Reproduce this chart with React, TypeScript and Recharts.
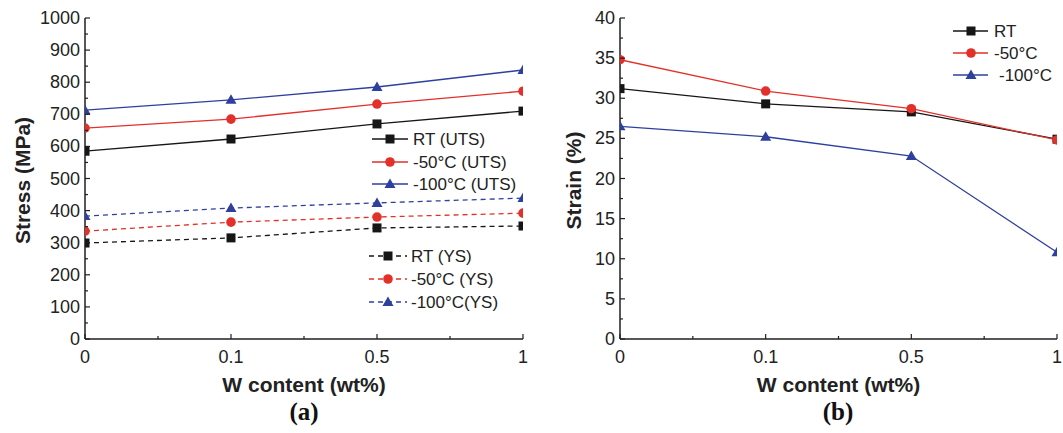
import React from 'react';
import { LineChart, Line, XAxis, YAxis, Legend } from 'recharts';

const categories = ['0', '0.1', '0.5', '1'];

const rtUts = [585, 623, 670, 710];
const c50Uts = [657, 685, 732, 772];
const c100Uts = [713, 745, 785, 838];
const rtYs = [299, 315, 346, 352];
const c50Ys = [336, 364, 380, 392];
const c100Ys = [383, 408, 424, 439];

const rtStrain = [31.2, 29.3, 28.3, 24.9];
const c50Strain = [34.8, 30.9, 28.7, 24.8];
const c100Strain = [26.5, 25.2, 22.8, 10.8];

const xTicks = [0, 0.5, 1, 1.5, 2, 2.5, 3];
const stressTicks = [0, 50, 100, 150, 200, 250, 300, 350, 400, 450, 500, 550, 600, 650, 700, 750, 800, 850, 900, 950, 1000];
const strainTicks = [0, 2.5, 5, 7.5, 10, 12.5, 15, 17.5, 20, 22.5, 25, 27.5, 30, 32.5, 35, 37.5, 40];

const stressData = categories.map((c, i) => ({
  idx: i,
  w: c,
  rtUts: rtUts[i],
  c50Uts: c50Uts[i],
  c100Uts: c100Uts[i],
  rtYs: rtYs[i],
  c50Ys: c50Ys[i],
  c100Ys: c100Ys[i],
}));

const strainData = categories.map((c, i) => ({
  idx: i,
  w: c,
  rt: rtStrain[i],
  c50: c50Strain[i],
  c100: c100Strain[i],
}));

const FONT = '"Liberation Sans", Arial, Helvetica, sans-serif';
const AXIS = '#1f1f1f';
const BLACK = '#161616';
const RED = '#e3302a';
const BLUE = '#2e3f9d';

type Shape = 'square' | 'circle' | 'triangle';

function marker(shape: Shape, color: string, cx: number, cy: number) {
  if (shape === 'square') return <rect x={cx - 4.5} y={cy - 4.5} width={9} height={9} fill={color} />;
  if (shape === 'circle') return <circle cx={cx} cy={cy} r={4.8} fill={color} />;
  return <path d={`M${cx},${cy - 5.5} L${cx + 5.5},${cy + 4} L${cx - 5.5},${cy + 4} Z`} fill={color} />;
}

const dotFor = (shape: Shape, color: string) => (props: any) => {
  const { cx, cy, index } = props;
  if (cx == null || cy == null) return <g key={`d${index}`} />;
  return <g key={`d${index}`}>{marker(shape, color, cx, cy)}</g>;
};

const BottomTick = (props: any) => {
  const { x, y, payload } = props;
  const v = payload.value;
  const major = Number.isInteger(v);
  const axisY = y - 10;
  return (
    <g>
      <line x1={x} x2={x} y1={axisY} y2={axisY - (major ? 5 : 3)} stroke={AXIS} strokeWidth={1.2} />
      {major && (
        <text x={x} y={axisY + 18} textAnchor="middle" dominantBaseline="central" fontSize={18} fill="#222" fontFamily={FONT}>
          {categories[v]}
        </text>
      )}
    </g>
  );
};

const TopTick = (props: any) => {
  const { x, y, payload } = props;
  const major = Number.isInteger(payload.value);
  return <line x1={x} x2={x} y1={y} y2={y + (major ? 5 : 3)} stroke={AXIS} strokeWidth={1.2} />;
};

const LeftTick = (props: any) => {
  const { x, y, payload, step } = props;
  const v = payload.value;
  const major = v % step === 0;
  const axisX = x + 5;
  return (
    <g>
      <line x1={axisX} x2={axisX + (major ? 5 : 3)} y1={y} y2={y} stroke={AXIS} strokeWidth={1.2} />
      {major && (
        <text x={x} y={y} textAnchor="end" dominantBaseline="central" fontSize={18} fill="#222" fontFamily={FONT}>
          {v}
        </text>
      )}
    </g>
  );
};

const RightTick = (props: any) => {
  const { x, y, payload, step } = props;
  const major = payload.value % step === 0;
  return <line x1={x} x2={x - (major ? 5 : 3)} y1={y} y2={y} stroke={AXIS} strokeWidth={1.2} />;
};

const YTitle = ({ viewBox, text, cx }: any) => {
  const cy = viewBox.y + viewBox.height / 2 + 2;
  return (
    <text x={cx} y={cy} transform={`rotate(-90, ${cx}, ${cy})`} textAnchor="middle" dominantBaseline="central"
      fontSize={21} fontWeight="bold" fill="#222" fontFamily={FONT}>
      {text}
    </text>
  );
};

const XTitle = ({ viewBox, text }: any) => (
  <text x={viewBox.x + viewBox.width / 2} y={viewBox.y + 45} textAnchor="middle" dominantBaseline="central"
    fontSize={21} fontWeight="bold" fill="#222" fontFamily={FONT}>
    {text}
  </text>
);

type LegendItem = { label: string; color: string; shape: Shape; dashed: boolean; y: number; x1: number; x2: number; mx: number; tx: number };

const LegendBox = ({ items, width, height }: { items: LegendItem[]; width: number; height: number }) => (
  <svg width={width} height={height} style={{ display: 'block' }}>
    {items.map((it) => (
      <g key={it.label}>
        <line x1={it.x1} x2={it.x2} y1={it.y} y2={it.y} stroke={it.color} strokeWidth={1.3} strokeDasharray={it.dashed ? '5 4' : undefined} />
        {marker(it.shape, it.color, it.mx, it.y)}
        <text x={it.tx} y={it.y} dominantBaseline="central" fontSize={17} fill="#222" fontFamily={FONT}>
          {it.label}
        </text>
      </g>
    ))}
  </svg>
);

const stressLegend: LegendItem[] = [
  { label: 'RT (UTS)', color: BLACK, shape: 'square', dashed: false, y: 139, x1: 372, x2: 408, mx: 390, tx: 413 },
  { label: '-50°C (UTS)', color: RED, shape: 'circle', dashed: false, y: 162, x1: 372, x2: 408, mx: 390, tx: 413 },
  { label: '-100°C (UTS)', color: BLUE, shape: 'triangle', dashed: false, y: 184, x1: 372, x2: 408, mx: 390, tx: 413 },
  { label: 'RT (YS)', color: BLACK, shape: 'square', dashed: true, y: 256, x1: 369, x2: 407, mx: 388, tx: 411 },
  { label: '-50°C (YS)', color: RED, shape: 'circle', dashed: true, y: 279, x1: 369, x2: 407, mx: 388, tx: 411 },
  { label: '-100°C(YS)', color: BLUE, shape: 'triangle', dashed: true, y: 302, x1: 369, x2: 407, mx: 388, tx: 411 },
];

const strainLegend: LegendItem[] = [
  { label: 'RT', color: BLACK, shape: 'square', dashed: false, y: 31, x1: 413, x2: 448, mx: 431, tx: 454 },
  { label: '-50°C', color: RED, shape: 'circle', dashed: false, y: 53, x1: 413, x2: 448, mx: 431, tx: 454 },
  { label: '-100°C', color: BLUE, shape: 'triangle', dashed: false, y: 75, x1: 413, x2: 448, mx: 431, tx: 459 },
];

const axisLine = { stroke: AXIS, strokeWidth: 1.5 };

function frameAxes(yDomain: [number, number], yTicks: number[], step: number, title: string, titleX: number) {
  return [
    <XAxis key="xb" xAxisId={0} dataKey="idx" type="number" domain={[0, 3]} ticks={xTicks} interval={0}
      allowDataOverflow height={30} tickSize={0} tickMargin={10} tickLine={false} axisLine={axisLine}
      tick={<BottomTick />} label={<XTitle text="W content (wt%)" />} />,
    <XAxis key="xt" xAxisId="top" orientation="top" type="number" domain={[0, 3]} ticks={xTicks} interval={0}
      height={0} tickSize={0} tickMargin={0} tickLine={false} axisLine={axisLine} tick={<TopTick />} />,
    <YAxis key="yl" yAxisId={0} type="number" domain={yDomain} ticks={yTicks} interval={0} width={85}
      tickSize={0} tickMargin={5} tickLine={false} axisLine={axisLine} tick={<LeftTick step={step} />}
      label={<YTitle text={title} cx={titleX} />} />,
    <YAxis key="yr" yAxisId="right" orientation="right" type="number" domain={yDomain} ticks={yTicks} interval={0}
      width={0} tickSize={0} tickMargin={0} tickLine={false} axisLine={axisLine} tick={<RightTick step={step} />} />,
  ];
}

const StressChart = () => (
  <LineChart width={540} height={433} data={stressData} margin={{ top: 18, right: 17, bottom: 64, left: 0 }}>
    {frameAxes([0, 1000], stressTicks, 100, 'Stress (MPa)', 22)}
    <Line dataKey="rtUts" stroke={BLACK} strokeWidth={1.3} dot={dotFor('square', BLACK)} isAnimationActive={false} />
    <Line dataKey="c50Uts" stroke={RED} strokeWidth={1.3} dot={dotFor('circle', RED)} isAnimationActive={false} />
    <Line dataKey="c100Uts" stroke={BLUE} strokeWidth={1.3} dot={dotFor('triangle', BLUE)} isAnimationActive={false} />
    <Line dataKey="rtYs" stroke={BLACK} strokeWidth={1.3} strokeDasharray="5 4" dot={dotFor('square', BLACK)} isAnimationActive={false} />
    <Line dataKey="c50Ys" stroke={RED} strokeWidth={1.3} strokeDasharray="5 4" dot={dotFor('circle', RED)} isAnimationActive={false} />
    <Line dataKey="c100Ys" stroke={BLUE} strokeWidth={1.3} strokeDasharray="5 4" dot={dotFor('triangle', BLUE)} isAnimationActive={false} />
    <Legend layout="horizontal" verticalAlign="middle" align="center"
      wrapperStyle={{ position: 'absolute', left: 0, top: 0, width: 540, height: 433, pointerEvents: 'none' }}
      content={() => <LegendBox items={stressLegend} width={540} height={433} />} />
  </LineChart>
);

const StrainChart = () => (
  <LineChart width={523} height={433} data={strainData} margin={{ top: 18, right: 6, bottom: 64, left: -5 }}>
    {frameAxes([0, 40], strainTicks, 5, 'Strain (%)', 33)}
    <Line dataKey="rt" stroke={BLACK} strokeWidth={1.3} dot={dotFor('square', BLACK)} isAnimationActive={false} />
    <Line dataKey="c50" stroke={RED} strokeWidth={1.3} dot={dotFor('circle', RED)} isAnimationActive={false} />
    <Line dataKey="c100" stroke={BLUE} strokeWidth={1.3} dot={dotFor('triangle', BLUE)} isAnimationActive={false} />
    <Legend layout="horizontal" verticalAlign="middle" align="center"
      wrapperStyle={{ position: 'absolute', left: 0, top: 0, width: 523, height: 433, pointerEvents: 'none' }}
      content={() => <LegendBox items={strainLegend} width={523} height={433} />} />
  </LineChart>
);

const captionStyle: React.CSSProperties = {
  position: 'absolute',
  top: 397,
  width: 60,
  textAlign: 'center',
  fontFamily: '"Liberation Serif", "Times New Roman", serif',
  fontWeight: 'bold',
  fontSize: 25,
  color: '#111',
  lineHeight: '30px',
};

export default function App() {
  return (
    <div style={{ position: 'absolute', left: 0, top: 0, width: 1063, height: 433, background: '#fff', overflow: 'hidden' }}>
      <div style={{ position: 'absolute', left: 0, top: 0 }}>
        <StressChart />
      </div>
      <div style={{ position: 'absolute', left: 540, top: 0 }}>
        <StrainChart />
      </div>
      <div style={{ ...captionStyle, left: 274 }}>(a)</div>
      <div style={{ ...captionStyle, left: 808 }}>(b)</div>
    </div>
  );
}
